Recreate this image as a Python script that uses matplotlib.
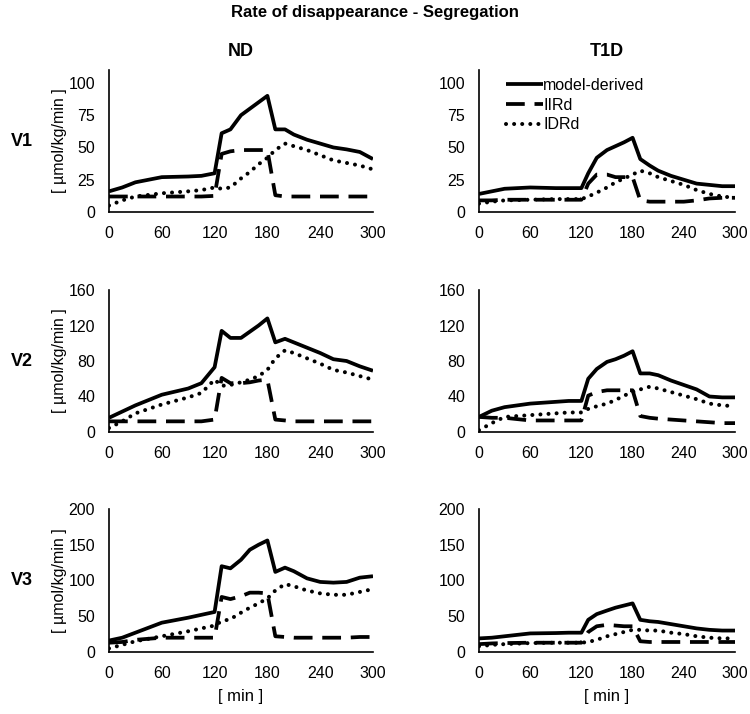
import matplotlib
matplotlib.use("Agg")
import matplotlib.pyplot as plt

plt.rcParams['font.family'] = ['Liberation Sans', 'DejaVu Sans']

times = [0, 15, 30, 60, 90, 105, 120, 128, 138, 150, 160, 170, 180, 189,
         200, 210, 225, 240, 255, 270, 285, 300]

# ND
nd_v1_model = [16, 19, 23, 27, 27.5, 28, 30, 61, 64, 75, 80, 85, 90, 64, 64, 60, 56, 53, 50, 48.5, 46.5, 41]
nd_v1_iird = [12, 12, 12, 12, 12, 12, 12.5, 45, 47, 48, 48, 48, 48, 13, 12, 12, 12, 12, 12, 12, 12, 12]
nd_v1_idrd = [5, 9, 12, 14.5, 16, 17, 19, 18, 19, 26, 31, 37, 42, 48, 53, 51, 48, 44, 40, 38, 36, 33]

nd_v2_model = [16, 23, 30, 42, 49, 55, 73, 114, 106, 106, 113, 120, 128, 101, 105, 101, 95, 89, 82, 80, 74, 69]
nd_v2_iird = [12, 12, 12, 12, 12, 12, 14, 61, 55, 55, 56, 58, 59, 14, 13, 12, 12, 12, 12, 12, 12, 12]
nd_v2_idrd = [4.5, 12, 21, 31, 39, 44, 59, 52, 53, 56, 59, 63, 70, 83, 92, 89, 83, 77, 70, 67, 63, 59]

nd_v3_model = [16, 20, 27, 41, 48, 52, 56, 120, 117, 129, 143, 150, 156, 112, 118, 113, 103, 98, 97, 98, 104, 106]
nd_v3_iird = [13, 14, 17, 20, 20, 20, 20, 77, 74, 78, 83, 83, 82, 22, 21, 20, 20, 20, 20, 20, 21, 21]
nd_v3_idrd = [5, 10, 15, 22, 29, 33, 37, 43, 46, 55, 62, 68, 75, 86, 95, 92, 86, 82, 80, 80, 84, 88]

# T1D
t1d_v1_model = [14, 16, 18, 19, 18.5, 18.5, 18.5, 30, 42, 48, 51, 54, 57.5, 41, 36, 32, 28, 25, 22, 21, 20, 20]
t1d_v1_iird = [9, 9, 9.5, 9.5, 9.5, 9.5, 9.5, 22, 29, 29, 27, 27, 27, 9, 8, 8, 8, 8, 9, 10.5, 11, 11]
t1d_v1_idrd = [6.5, 8, 9, 9.5, 10, 10, 10, 12, 15, 19, 23, 26, 29, 32, 30, 27, 24, 21, 17, 14, 12, 11]

t1d_v2_model = [17, 24, 28, 32, 34, 35, 35, 60, 71, 79, 82, 86, 91, 66, 66, 64, 58, 53, 48, 40, 39, 39]
t1d_v2_iird = [17, 16, 16, 13, 13, 13, 13, 41, 45, 47, 47, 47, 47, 18, 16, 15, 14, 13, 12, 11, 10, 10]
t1d_v2_idrd = [2, 10, 17, 19, 21, 22, 22, 26, 29, 32, 36, 41, 45, 48, 51, 49, 45, 41, 37, 32, 30, 29]

t1d_v3_model = [19, 20, 22, 26, 26.5, 27, 27, 45, 53, 58, 62, 65, 68, 45, 43, 42, 39, 36, 33, 31, 30, 30]
t1d_v3_iird = [11, 12, 12.5, 13, 13, 13, 13, 28, 36, 38, 37, 36, 36, 15, 14, 14, 14, 14, 14, 14, 14, 14]
t1d_v3_idrd = [8, 10, 11, 12.5, 13, 13, 13, 14, 17, 22, 25, 28, 31, 31, 30, 30, 27, 25, 22, 20, 19, 19]

groups = ["ND", "T1D"]
visits = ["V1", "V2", "V3"]
series_names = ["model-derived", "IIRd", "IDRd"]
x_ticks = [0, 60, 120, 180, 240, 300]
y_ticks = {"V1": [0, 25, 50, 75, 100], "V2": [0, 40, 80, 120, 160], "V3": [0, 50, 100, 150, 200]}
y_max = {"V1": 110, "V2": 160, "V3": 200}

data = {
    ("ND", "V1"): (nd_v1_model, nd_v1_iird, nd_v1_idrd),
    ("ND", "V2"): (nd_v2_model, nd_v2_iird, nd_v2_idrd),
    ("ND", "V3"): (nd_v3_model, nd_v3_iird, nd_v3_idrd),
    ("T1D", "V1"): (t1d_v1_model, t1d_v1_iird, t1d_v1_idrd),
    ("T1D", "V2"): (t1d_v2_model, t1d_v2_iird, t1d_v2_idrd),
    ("T1D", "V3"): (t1d_v3_model, t1d_v3_iird, t1d_v3_idrd),
}

W, H = 750, 714
fig = plt.figure(figsize=(W / 100, H / 100), dpi=100)

col_px = {"ND": (109, 373), "T1D": (479, 735)}
row_px = {"V1": (70, 212), "V2": (290, 432), "V3": (509, 652)}

styles = [
    dict(linestyle='-', linewidth=2.7, solid_capstyle='butt'),
    dict(linestyle=(0, (5.0, 2.6)), linewidth=2.7, dash_capstyle='butt'),
    dict(linestyle=(0, (0.01, 2.0)), linewidth=2.9, dash_capstyle='round'),
]

axes = {}
for g in groups:
    x0, x1 = col_px[g]
    for v in visits:
        y0, y1 = row_px[v]
        ax = fig.add_axes([x0 / W, 1 - y1 / H, (x1 - x0) / W, (y1 - y0) / H])
        axes[(g, v)] = ax
        for vals, name, st in zip(data[(g, v)], series_names, styles):
            ax.plot(times, vals, color='black', label=name, **st)
        ax.set_xlim(0, 300)
        ax.set_ylim(0, y_max[v])
        ax.set_xticks(x_ticks)
        ax.set_yticks(y_ticks[v])
        ax.tick_params(length=0, labelsize=11.5)
        ax.tick_params(axis='x', pad=10)
        ax.tick_params(axis='y', pad=10)
        for s in ['top', 'right']:
            ax.spines[s].set_visible(False)
        for s in ['left', 'bottom']:
            ax.spines[s].set_linewidth(1.2)
            ax.spines[s].set_color('black')
        ax.set_facecolor('none')
        if g == "ND":
            ax.set_ylabel("[ µmol/kg/min ]", fontsize=11.5, labelpad=1)
        if v == "V3":
            ax.set_xlabel("[ min ]", fontsize=12, labelpad=6)

leg = axes[("T1D", "V1")].legend(loc='upper left', bbox_to_anchor=(0.08, 0.99), frameon=False,
                                 fontsize=11.5, handlelength=2.3, handletextpad=0.05,
                                 labelspacing=0.3, borderaxespad=0)

fig.text(0.5, 1 - 12 / H, "Rate of disappearance - Segregation", ha='center', va='center',
         fontsize=12, fontweight='bold')
for g in groups:
    x0, x1 = col_px[g]
    fig.text((x0 + x1) / 2 / W, 1 - 52 / H, g, ha='center', va='center', fontsize=13, fontweight='bold')
for v in visits:
    y0, y1 = row_px[v]
    fig.text(22 / W, 1 - (y0 + y1) / 2 / H, v, ha='center', va='center', fontsize=13, fontweight='bold')

fig.savefig("out.png", dpi=100)
